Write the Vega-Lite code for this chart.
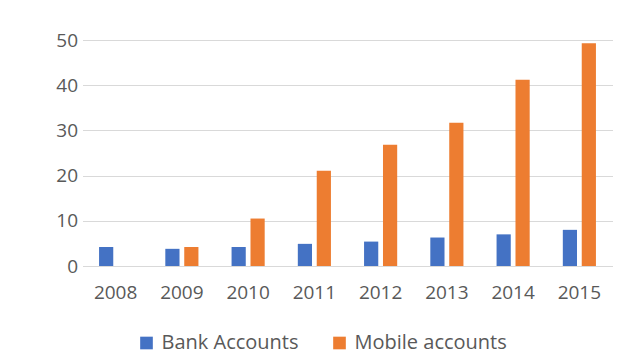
{
  "$schema": "https://vega.github.io/schema/vega-lite/v6.json",
  "autosize": "none",
  "width": 530,
  "height": 226,
  "padding": {"left": 82.5, "top": 40, "right": 22.5, "bottom": 98},
  "background": "white",
  "data": {
    "values": [
      {"year": "2008", "series": "Bank Accounts", "value": 4.2},
      {"year": "2009", "series": "Bank Accounts", "value": 3.8},
      {"year": "2009", "series": "Mobile accounts", "value": 4.2},
      {"year": "2010", "series": "Bank Accounts", "value": 4.2},
      {"year": "2010", "series": "Mobile accounts", "value": 10.5},
      {"year": "2011", "series": "Bank Accounts", "value": 4.9},
      {"year": "2011", "series": "Mobile accounts", "value": 21.1},
      {"year": "2012", "series": "Bank Accounts", "value": 5.4},
      {"year": "2012", "series": "Mobile accounts", "value": 26.8},
      {"year": "2013", "series": "Bank Accounts", "value": 6.3},
      {"year": "2013", "series": "Mobile accounts", "value": 31.7},
      {"year": "2014", "series": "Bank Accounts", "value": 7.0},
      {"year": "2014", "series": "Mobile accounts", "value": 41.2},
      {"year": "2015", "series": "Bank Accounts", "value": 8.0},
      {"year": "2015", "series": "Mobile accounts", "value": 49.3}
    ]
  },
  "mark": {"type": "bar"},
  "encoding": {
    "x": {
      "field": "year",
      "type": "nominal",
      "scale": {"paddingInner": 0.5, "paddingOuter": 0.25},
      "axis": {
        "title": null,
        "labelAngle": 0,
        "ticks": false,
        "domain": false,
        "grid": false,
        "labelPadding": 17,
        "labelFont": "Open Sans",
        "labelFontSize": 19,
        "labelColor": "#595959"
      }
    },
    "xOffset": {
      "field": "series",
      "type": "nominal",
      "scale": {"paddingInner": 0.25, "domain": ["Bank Accounts", "Mobile accounts"]}
    },
    "y": {
      "field": "value",
      "type": "quantitative",
      "scale": {"domain": [0, 50]},
      "axis": {
        "title": null,
        "values": [0, 10, 20, 30, 40, 50],
        "ticks": false,
        "domain": false,
        "grid": true,
        "gridColor": "#d9d9d9",
        "gridWidth": 1.2,
        "labelPadding": 5,
        "labelFont": "Open Sans",
        "labelFontSize": 19,
        "labelColor": "#595959"
      }
    },
    "color": {
      "field": "series",
      "type": "nominal",
      "scale": {"domain": ["Bank Accounts", "Mobile accounts"], "range": ["#4472C4", "#ED7D31"]},
      "legend": {
        "title": null,
        "orient": "none",
        "direction": "horizontal",
        "legendX": 54,
        "legendY": 293,
        "symbolType": "square",
        "symbolSize": 160,
        "symbolStrokeWidth": 0,
        "symbolOpacity": 1,
        "labelFont": "Open Sans",
        "labelFontSize": 20,
        "labelColor": "#595959",
        "labelOffset": 5,
        "columnPadding": 30
      }
    }
  },
  "config": {"view": {"stroke": null}}
}
